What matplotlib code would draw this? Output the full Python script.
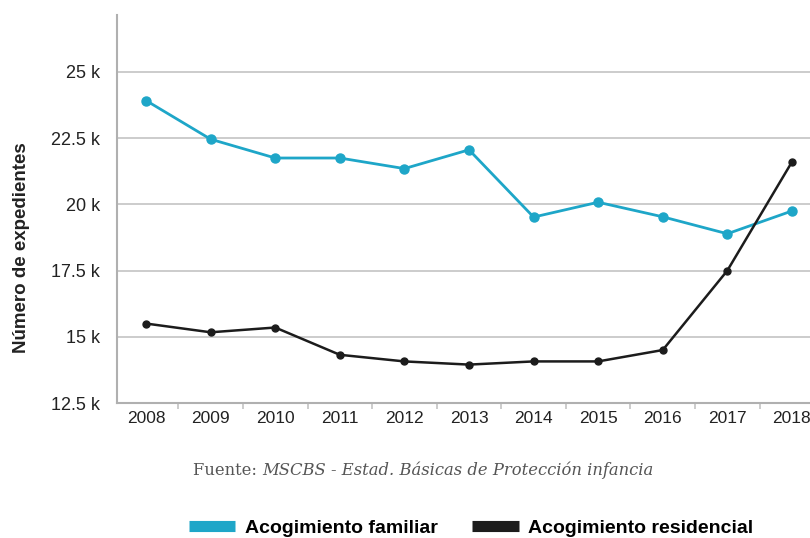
import matplotlib.pyplot as plt
from matplotlib.lines import Line2D

# ---------------- datos ----------------
anios = ['2008', '2009', '2010', '2011', '2012', '2013', '2014', '2015', '2016', '2017', '2018']
familiar = [23920, 22460, 21750, 21750, 21350, 22060, 19520, 20080, 19530, 18890, 19750]
residencial = [15500, 15170, 15350, 14320, 14070, 13950, 14070, 14070, 14500, 17500, 21600]
yticks = [12500, 15000, 17500, 20000, 22500, 25000]
ytick_labels = ['12.5 k', '15 k', '17.5 k', '20 k', '22.5 k', '25 k']

azul = '#1ea6c8'
negro = '#1c1c1c'
gris = '#c4c4c4'
fuente = ['Liberation Sans Narrow', 'Liberation Sans', 'DejaVu Sans']

fig = plt.figure(figsize=(8.1, 5.38), dpi=100)
ax = fig.add_axes([117/810, 1 - 403/538, 1 - 117/810, (403 - 15)/538])

xx = range(len(anios))
ax.plot(xx, familiar, color=azul, lw=2, marker='o', ms=6.5, zorder=3)
ax.plot(xx, residencial, color=negro, lw=1.8, marker='o', ms=5, zorder=3)

ax.set_xlim(-0.45, 10.28)
ax.set_ylim(12500, 27150)
ax.set_yticks(yticks)
ax.set_yticklabels(ytick_labels, family=fuente, fontsize=13, color='#222222')
ax.set_xticks(list(xx))
ax.set_xticklabels(anios, family=fuente, fontsize=12.5, color='#222222')
ax.set_xticks([i + 0.5 for i in range(len(anios) - 1)], minor=True)
ax.tick_params(axis='x', which='major', length=0, pad=6)
ax.tick_params(axis='x', which='minor', length=4, color=gris, width=1.2)
ax.tick_params(axis='y', length=0, pad=12)

ax.grid(axis='y', color=gris, lw=1.2)
ax.set_axisbelow(True)
for s in ['top', 'right']:
    ax.spines[s].set_visible(False)
for s in ['left', 'bottom']:
    ax.spines[s].set_color('#b0b0b0')
    ax.spines[s].set_linewidth(1.5)

ax.set_ylabel('Número de expedientes', family=fuente, fontsize=13.5, fontweight='bold',
              color='#222222')
ax.yaxis.set_label_coords(-0.125, 0.40)

# fuente
t1 = fig.text(193/810, 1 - 475/538, 'Fuente: ', family='DejaVu Serif', fontsize=11.8, color='#555555')
ax.annotate('MSCBS - Estad. Básicas de Protección infancia', xy=(1, 0), xycoords=t1,
            va='bottom', ha='left', family='DejaVu Serif', style='italic', fontsize=11.8,
            color='#555555')

# leyenda
handles = [Line2D([], [], color=azul, lw=8, solid_capstyle='butt'),
           Line2D([], [], color=negro, lw=8, solid_capstyle='butt')]
fig.legend(handles, ['Acogimiento familiar', 'Acogimiento residencial'], ncol=2,
           loc='center', bbox_to_anchor=(471/810, 1 - 528/538), frameon=False,
           prop={'family': fuente, 'size': 14, 'weight': 'bold'},
           handlelength=2.4, columnspacing=1.75, handletextpad=0.5)

fig.savefig('out.png', dpi=100)
